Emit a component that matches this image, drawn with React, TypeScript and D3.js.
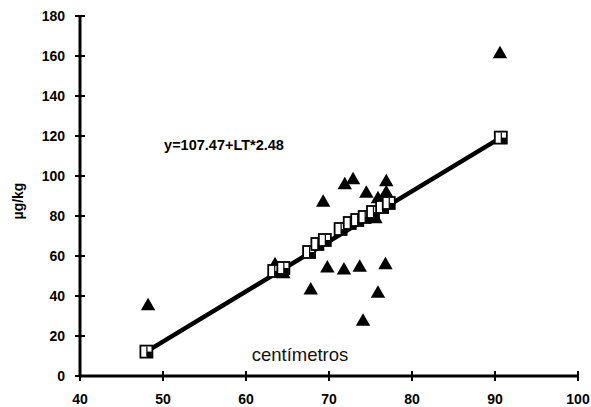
import { useEffect, useRef } from "react";
import * as d3 from "d3";

// observed values (triangles)
const OBS_X = [48.2, 90.6, 63.5, 64.5, 67.8, 69.3, 69.8, 71.8, 73.7, 76.8, 75.9, 74.1, 71.9, 72.9, 74.5, 76.9, 76.9, 75.9, 75.6];
const OBS_Y = [35.5, 161.5, 56, 51.5, 43.3, 87.2, 54.3, 53.3, 54.7, 56, 41.7, 27.7, 96, 98.5, 91.7, 97.5, 92, 89, 79];

// predicted values (squares on the line)
const PRED_X = [48.0, 63.4, 64.5, 67.6, 68.6, 69.5, 71.4, 72.5, 73.4, 74.3, 75.3, 76.4, 77.2, 90.7];
const PRED_Y = [12.2, 52.5, 54, 62, 66, 68, 73.5, 76.5, 78, 79.5, 82, 84.5, 86.5, 119.2];

const X_TICKS = [40, 50, 60, 70, 80, 90, 100];
const Y_TICKS = [0, 20, 40, 60, 80, 100, 120, 140, 160, 180];

const W = 591;
const H = 407;

export default function App() {
    const svgRef = useRef<SVGSVGElement>(null);

    useEffect(() => {
        const svg = d3.select(svgRef.current);
        svg.selectAll("*").remove();

        const x = d3.scaleLinear().domain([40, 100]).range([80, 578]);
        const y = d3.scaleLinear().domain([0, 180]).range([376, 16]);
        const font = "'Liberation Sans', Arial, sans-serif";

        // regression line between first and last predicted point
        const n = PRED_X.length - 1;
        svg.append("line")
            .attr("x1", x(PRED_X[0]))
            .attr("y1", y(PRED_Y[0]))
            .attr("x2", x(PRED_X[n]))
            .attr("y2", y(PRED_Y[n]))
            .attr("stroke", "#000")
            .attr("stroke-width", 4.5);

        // triangles
        const tri = d3.symbol().type(d3.symbolTriangle).size(90);
        svg.append("g")
            .selectAll("path")
            .data(OBS_X.map((v, i) => [v, OBS_Y[i]]))
            .join("path")
            .attr("d", tri)
            .attr("transform", (d) => `translate(${x(d[0])},${y(d[1]) + 1})`)
            .attr("fill", "#000");

        // squares
        const sq = svg.append("g")
            .selectAll("g")
            .data(PRED_X.map((v, i) => [v, PRED_Y[i]]))
            .join("g")
            .attr("transform", (d) => `translate(${x(d[0])},${y(d[1])})`);
        sq.append("rect")
            .attr("x", -6).attr("y", -6).attr("width", 12).attr("height", 12)
            .attr("fill", "#fff").attr("stroke", "#000").attr("stroke-width", 1.8);
        sq.append("rect")
            .attr("x", 0.5).attr("y", 0).attr("width", 5).attr("height", 5.5)
            .attr("fill", "#000");
        sq.append("line")
            .attr("x1", 0.5).attr("x2", 0.5).attr("y1", -5).attr("y2", 5)
            .attr("stroke", "#000").attr("stroke-width", 1.2);

        // axes
        svg.append("line")
            .attr("x1", x(40)).attr("x2", x(100)).attr("y1", y(0)).attr("y2", y(0))
            .attr("stroke", "#000").attr("stroke-width", 3);
        svg.append("line")
            .attr("x1", x(40)).attr("x2", x(40)).attr("y1", y(0)).attr("y2", y(180))
            .attr("stroke", "#000").attr("stroke-width", 3);

        svg.append("g")
            .selectAll("line")
            .data(X_TICKS)
            .join("line")
            .attr("x1", (d) => x(d)).attr("x2", (d) => x(d))
            .attr("y1", y(0) - 5).attr("y2", y(0) + 5)
            .attr("stroke", "#000").attr("stroke-width", 2);
        svg.append("g")
            .selectAll("line")
            .data(Y_TICKS)
            .join("line")
            .attr("y1", (d) => y(d)).attr("y2", (d) => y(d))
            .attr("x1", x(40) - 5).attr("x2", x(40) + 5)
            .attr("stroke", "#000").attr("stroke-width", 2);

        svg.append("g")
            .selectAll("text")
            .data(X_TICKS)
            .join("text")
            .attr("x", (d) => x(d))
            .attr("y", 404)
            .attr("text-anchor", "middle")
            .attr("font-family", font)
            .attr("font-weight", "bold")
            .attr("font-size", 14)
            .text((d) => d);
        svg.append("g")
            .selectAll("text")
            .data(Y_TICKS)
            .join("text")
            .attr("x", 65)
            .attr("y", (d) => y(d) + 5)
            .attr("text-anchor", "end")
            .attr("font-family", font)
            .attr("font-weight", "bold")
            .attr("font-size", 14)
            .text((d) => d);

        svg.append("text")
            .attr("transform", "translate(23,201) rotate(-90)")
            .attr("text-anchor", "middle")
            .attr("font-family", font)
            .attr("font-weight", "bold")
            .attr("font-size", 14)
            .text("µg/kg");

        svg.append("text")
            .attr("x", 224)
            .attr("y", 150)
            .attr("text-anchor", "middle")
            .attr("font-family", font)
            .attr("font-weight", "bold")
            .attr("font-size", 14.5)
            .text("y=107.47+LT*2.48");

        svg.append("text")
            .attr("x", 300)
            .attr("y", 361)
            .attr("text-anchor", "middle")
            .attr("font-family", font)
            .attr("font-size", 18.5)
            .attr("fill", "#111")
            .text("centímetros");
    }, []);

    return (
        <svg
            ref={svgRef}
            width={W}
            height={H}
            style={{ position: "absolute", left: 0, top: 0, background: "#fff" }}
        />
    );
}
